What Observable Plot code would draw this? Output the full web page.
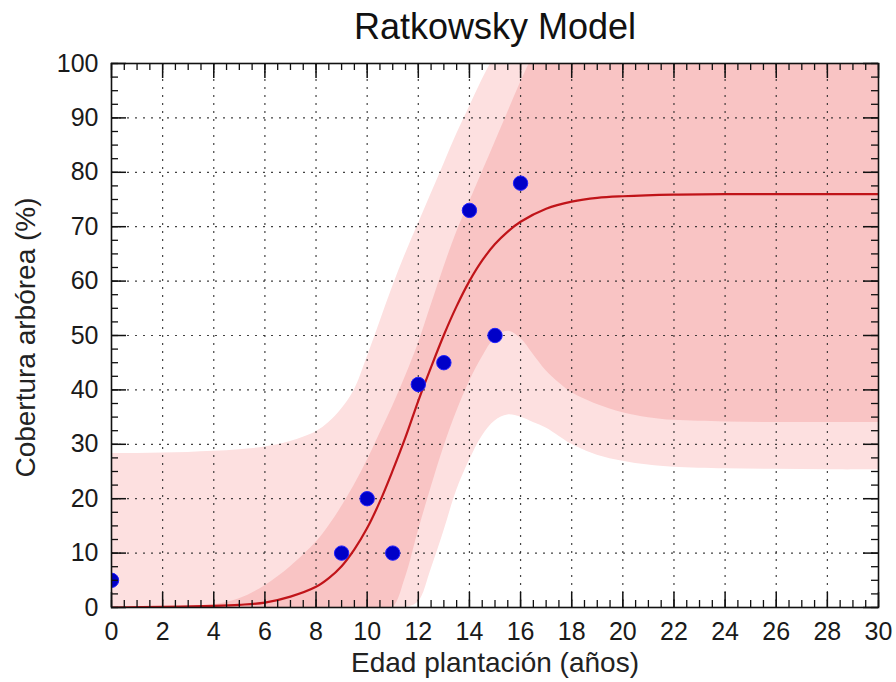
<!DOCTYPE html>
<html>
<head>
<meta charset="utf-8">
<script src="https://cdn.jsdelivr.net/npm/d3@7"></script>
<script src="https://cdn.jsdelivr.net/npm/@observablehq/plot@0.6"></script>
<style>
  html, body { margin: 0; padding: 0; background: #fff; }
</style>
</head>
<body>
<div id="chart"></div>
<script>
// ---- Data ----
const xTicks = [0, 2, 4, 6, 8, 10, 12, 14, 16, 18, 20, 22, 24, 26, 28, 30];
const yTicks = [0, 10, 20, 30, 40, 50, 60, 70, 80, 90, 100];

// Observations (blue dots)
const obsAge   = [0, 9, 10, 11, 12, 13, 14, 15, 16];
const obsCover = [5, 10, 20, 10, 41, 45, 73, 50, 78];

// Fitted Ratkowsky curve
const fitAge   = [0, 2, 4, 5, 6, 7, 8, 8.5, 9, 9.5, 10, 10.5, 11, 11.5, 12, 12.5, 13, 13.5, 14, 14.5, 15, 15.5, 16, 17, 18, 19, 20, 22, 24, 26, 28, 30];
const fitCover = [0.0, 0.1, 0.3, 0.5, 0.9, 2.0, 3.8, 5.4, 7.6, 10.7, 14.6, 19.5, 25.2, 31.3, 38.0, 44.2, 50.1, 55.4, 60.0, 63.8, 66.8, 69.1, 70.9, 73.3, 74.6, 75.3, 75.6, 75.9, 76.0, 76.0, 76.0, 76.0];

// Bands (light = prediction, dark = confidence), edges
const bandAge  = [0, 1, 2, 3, 4, 5, 6, 7, 8, 8.5, 9, 9.5, 10, 10.5, 11, 11.5, 12, 12.5, 13, 13.5, 14, 14.5, 15, 15.5, 16, 16.5, 17, 17.5, 18, 19, 20, 21, 22, 24, 26, 28, 30];
const predLow  = [0, 0, 0, 0, 0, 0, 0, 0, 0, 0, 0, 0, 0, 0, 0, 0, 1, 7, 14, 21.5, 27, 31.5, 34.3, 35.4, 35, 34, 33, 31.5, 30, 28, 26.9, 26.2, 25.8, 25.5, 25.4, 25.3, 25.3];
const predHigh = [28.3, 28.3, 28.4, 28.5, 28.7, 29.0, 29.5, 30.5, 32.3, 34, 36.5, 40, 46, 52.5, 59, 65, 70.5, 76, 81.5, 87, 92, 97, 101.5, 106, 110, 113.5, 116.5, 119, 121, 123.5, 125, 126, 126.5, 127, 127, 127, 127];
const confLow  = [0, 0, 0, 0, 0, 0, 0, 0, 0, 0, 0, 0, 0, 0, 0, 5.5, 14, 22, 29.5, 36, 41.5, 46, 49.5, 50.8, 49.5, 46.5, 43.5, 41.3, 39.5, 37.3, 35.8, 34.9, 34.4, 34.1, 34, 34, 34];
const confHigh = [0, 0, 0.1, 0.2, 0.5, 1.6, 4, 7.5, 12, 15, 18.5, 22.5, 27, 32, 37, 42.5, 48.5, 55.5, 62.5, 69, 74.5, 80, 85.5, 91, 96.5, 101.5, 105.5, 109, 112, 115.5, 117.5, 118.5, 119, 119, 119, 119, 119];

// ---- Tables built from the arrays ----
const obs = obsAge.map((a, i) => ({age: a, cover: obsCover[i]}));
const fit = fitAge.map((a, i) => ({age: a, cover: fitCover[i]}));
const bands = bandAge.map((a, i) => ({age: a, pl: predLow[i], ph: predHigh[i], cl: confLow[i], ch: confHigh[i]}));
const xMinor = d3.range(0, 30.001, 0.5);
const yMinor = d3.range(0, 100.001, 2.5);

const W = 896, H = 682;
const mL = 111, mR = 18, mT = 63, mB = 75;
const frameW = W - mL - mR, frameH = H - mT - mB;
const majorLen = 15, minorLen = 7;
const tickStroke = "#111";

const light = "#fde0e0", dark = "#f9c4c4";

const chart = Plot.plot({
  width: W, height: H,
  marginLeft: mL, marginRight: mR, marginTop: mT, marginBottom: mB,
  style: {fontFamily: "'Liberation Sans', Arial, sans-serif", background: "#fff", color: "#1a1a1a"},
  x: {domain: [0, 30]},
  y: {domain: [0, 100]},
  marks: [
    Plot.areaY(bands, {x: "age", y1: "pl", y2: "ph", fill: light, curve: "catmull-rom", clip: true}),
    Plot.areaY(bands, {x: "age", y1: "cl", y2: "ch", fill: dark, curve: "catmull-rom", clip: true}),
    Plot.gridX(xTicks.slice(1, -1), {stroke: "#222", strokeOpacity: 0.85, strokeWidth: 1.2, strokeDasharray: "2,6"}),
    Plot.gridY(yTicks.slice(1, -1), {stroke: "#222", strokeOpacity: 0.85, strokeWidth: 1.2, strokeDasharray: "2,6"}),
    Plot.line(fit, {x: "age", y: "cover", stroke: "#c01419", strokeWidth: 2.2, curve: "catmull-rom", clip: true}),
    Plot.dot(obs, {x: "age", y: "cover", r: 7.2, fill: "#0000c8", stroke: "#2020ff", strokeWidth: 1, clip: true}),
    // inward ticks: bottom / top
    Plot.tickX(xMinor, {x: d => d, insetTop: frameH - minorLen, stroke: tickStroke, strokeWidth: 1.3}),
    Plot.tickX(xTicks, {x: d => d, insetTop: frameH - majorLen, stroke: tickStroke, strokeWidth: 1.5}),
    Plot.tickX(xMinor, {x: d => d, insetBottom: frameH - minorLen, stroke: tickStroke, strokeWidth: 1.3}),
    Plot.tickX(xTicks, {x: d => d, insetBottom: frameH - majorLen, stroke: tickStroke, strokeWidth: 1.5}),
    // inward ticks: left / right
    Plot.tickY(yMinor, {y: d => d, insetRight: frameW - minorLen, stroke: tickStroke, strokeWidth: 1.3}),
    Plot.tickY(yTicks, {y: d => d, insetRight: frameW - majorLen, stroke: tickStroke, strokeWidth: 1.5}),
    Plot.tickY(yMinor, {y: d => d, insetLeft: frameW - minorLen, stroke: tickStroke, strokeWidth: 1.3}),
    Plot.tickY(yTicks, {y: d => d, insetLeft: frameW - majorLen, stroke: tickStroke, strokeWidth: 1.5}),
    Plot.frame({stroke: "#111", strokeWidth: 1.6}),
    Plot.axisX(xTicks, {tickSize: 0, tickPadding: 15, fontSize: 25, label: null, tickFormat: d => String(d)}),
    Plot.axisY(yTicks, {tickSize: 0, tickPadding: 13, fontSize: 25, label: null, tickFormat: d => String(d)}),
    Plot.text(["Edad plantación (años)"], {frameAnchor: "bottom", textAnchor: "middle", lineAnchor: "middle", dy: 56, fontSize: 28, fill: "#222"}),
    Plot.text(["Cobertura arbórea (%)"], {frameAnchor: "left", textAnchor: "middle", lineAnchor: "middle", dx: -85, dy: 2, rotate: -90, fontSize: 28, fill: "#222"}),
    Plot.text(["Ratkowsky Model"], {frameAnchor: "top", textAnchor: "middle", lineAnchor: "middle", dy: -36.5, fontSize: 36, fill: "#111"})
  ]
});

document.getElementById("chart").appendChild(chart);
</script>
</body>
</html>
